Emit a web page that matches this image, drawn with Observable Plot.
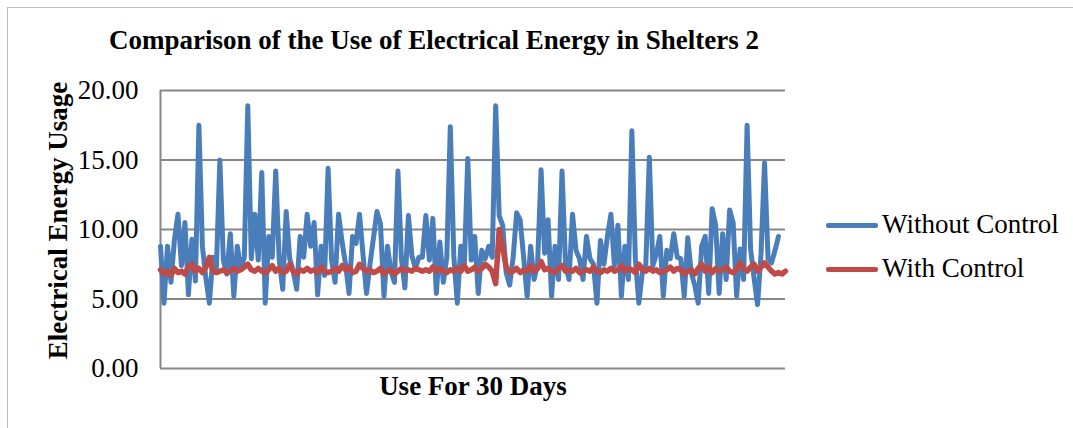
<!DOCTYPE html>
<html>
<head>
<meta charset="utf-8">
<script src="https://cdn.jsdelivr.net/npm/d3@7"></script>
<script src="https://cdn.jsdelivr.net/npm/@observablehq/plot@0.6"></script>
<style>
  html, body { margin: 0; padding: 0; background: #fff; }
  #wrap { position: relative; width: 1073px; height: 428px; overflow: hidden; background: #fff;
          font-family: "Liberation Serif", "Times New Roman", serif; color: #000; }
  #frame { position: absolute; left: 7px; top: 7px; width: 1100px; height: 500px;
           border-left: 1px solid #bfbfbf; border-top: 1px solid #bfbfbf; }
  #chart { position: absolute; left: 0; top: 0; }
  .t { position: absolute; font-size: 27px; line-height: 27px; white-space: nowrap; }
  #title { left: 0; width: 868px; top: 27px; text-align: center; font-weight: bold; }
  #xlabel { left: 273px; width: 400px; top: 373px; text-align: center; font-weight: bold; }
  #ylabel { left: -92px; width: 300px; top: 207px; text-align: center; font-weight: bold;
            transform: rotate(-90deg); transform-origin: 150px 13.5px; }
  .legrow { position: absolute; left: 826px; height: 27px; }
  .legline { position: absolute; left: 0; width: 52px; height: 5px; border-radius: 2px; }
  .legtext { position: absolute; left: 56px; top: 0; font-size: 27px; line-height: 27px; white-space: nowrap; }
</style>
</head>
<body>
<div id="wrap">
  <div id="frame"></div>
  <div id="chart"></div>
  <div id="title" class="t"></div>
  <div id="ylabel" class="t"></div>
  <div id="xlabel" class="t"></div>
</div>
<script>
const titleText = "Comparison of the Use of Electrical Energy in Shelters 2";
const yAxisTitle = "Electrical Energy Usage";
const xAxisTitle = "Use For 30 Days";
const seriesNames = ["Without Control", "With Control"];
const yTicks = [0, 5, 10, 15, 20];

const withoutControl = [
  8.8, 4.7, 8.8, 6.2, 9.3, 11.1, 7.4, 10.5, 5.3, 9.3,
  6.3, 17.5, 8.8, 6.5, 4.7, 8.0, 7.2, 15.0, 7.8, 6.8,
  9.7, 5.2, 8.8, 7.2, 8.0, 18.9, 7.9, 11.1, 7.8, 14.1,
  4.7, 9.5, 8.0, 14.2, 7.8, 5.7, 11.3, 7.9, 7.0, 5.7,
  9.5, 8.0, 11.1, 8.8, 10.5, 5.3, 8.8, 6.7, 14.4, 7.8,
  6.2, 11.1, 9.1, 7.5, 5.4, 9.5, 9.0, 11.1, 8.2, 5.4,
  7.5, 9.4, 11.3, 10.4, 5.2, 8.8, 7.0, 6.2, 14.2, 7.9,
  5.8, 11.0, 8.1, 7.2, 8.0, 8.0, 11.0, 7.8, 10.8, 5.4,
  9.1, 6.2, 8.0, 17.4, 8.1, 4.7, 8.8, 7.3, 15.1, 7.8,
  9.5, 5.4, 8.5, 7.9, 8.8, 8.0, 18.9, 11.0, 10.3, 6.9,
  6.0, 8.0, 11.2, 10.7, 8.0, 5.2, 8.8, 6.4, 7.5, 14.3,
  8.3, 10.7, 5.2, 8.8, 6.4, 14.2, 7.5, 6.4, 11.1, 8.5,
  7.9, 6.4, 9.5, 7.9, 7.5, 4.7, 9.2, 7.5, 9.5, 11.1,
  7.4, 10.3, 5.2, 8.8, 6.4, 17.1, 7.9, 4.7, 6.9, 7.5,
  15.2, 7.4, 8.2, 9.5, 5.2, 8.5, 7.9, 9.7, 8.0, 7.9,
  5.2, 9.4, 6.9, 6.0, 4.7, 8.8, 9.5, 5.4, 11.5, 10.3,
  5.4, 9.7, 6.4, 11.4, 10.5, 5.2, 8.6, 6.4, 17.5, 8.6,
  6.5, 4.6, 8.3, 14.8, 7.9, 7.6, 8.5, 9.5
];

const withControl = [
  7.1, 6.8, 7.0, 6.7, 7.2, 6.9, 7.0, 6.8, 7.3, 7.5,
  7.0, 7.2, 6.9, 7.3, 8.0, 7.0, 6.9, 7.0, 7.1, 6.9,
  7.0, 7.2, 7.0, 7.1, 7.3, 7.5, 7.1, 7.0, 7.2, 7.0,
  6.9, 7.1, 7.4, 7.0, 7.2, 6.9, 7.0, 7.5, 7.0, 6.8,
  7.1, 7.0, 7.2, 7.0, 7.1, 6.9, 7.3, 7.0, 6.9, 7.0,
  7.2, 7.0, 7.4, 7.1, 7.3, 6.9, 7.0, 7.5, 7.2, 7.0,
  7.1, 6.9, 7.0, 7.2, 6.8, 7.0, 7.1, 6.8, 7.0, 7.2,
  7.0, 7.1, 7.0, 7.2, 7.1, 7.0, 7.1, 7.0, 7.3, 7.0,
  7.2, 7.0, 6.9, 7.1, 7.0, 7.2, 7.0, 7.4, 7.0, 7.1,
  7.3, 7.0, 7.2, 7.5, 7.3, 7.0, 6.1, 10.0, 8.7, 7.3,
  6.9, 7.0, 7.2, 6.9, 7.1, 7.0, 7.4, 7.0, 7.2, 7.7,
  7.1, 7.2, 7.0, 6.9, 7.2, 7.4, 7.0, 7.1, 7.0, 7.2,
  6.9, 7.0, 7.1, 7.0, 7.3, 7.0, 6.9, 7.1, 7.0, 7.2,
  7.0, 7.1, 7.4, 7.0, 7.2, 7.1, 6.9, 7.5, 7.1, 7.0,
  7.2, 7.0, 7.1, 6.9, 7.0, 7.1, 7.3, 7.0, 7.2, 7.1,
  6.8, 7.0, 7.1, 6.8, 7.2, 7.5, 7.0, 7.3, 6.9, 7.2,
  7.0, 7.1, 7.3, 7.0, 6.9, 7.1, 7.6, 7.2, 7.0, 7.3,
  7.5, 7.0, 7.3, 7.6, 7.3, 7.0, 6.8, 6.9, 6.8, 7.0
];

const seriesColors = ["#4a7ebb", "#be4b48"];
const seriesWidths = [5, 5.5];
const gridColor = "#878787";

const rows = [];
[withoutControl, withControl].forEach((vals, s) => {
  vals.forEach((v, i) => rows.push({ i, value: v, series: seriesNames[s] }));
});
const nPoints = Math.max(withoutControl.length, withControl.length);

const chart = Plot.plot({
  width: 1073,
  height: 428,
  marginLeft: 160,
  marginRight: 288,
  marginTop: 90,
  marginBottom: 60,
  style: { fontFamily: '"Liberation Serif", "Times New Roman", serif', background: "transparent", color: "#000" },
  x: { domain: [0, nPoints - 1], axis: null },
  y: { domain: [0, 20], axis: null },
  color: { domain: seriesNames, range: seriesColors },
  marks: [
    Plot.gridY(yTicks, { stroke: gridColor, strokeOpacity: 1, strokeWidth: 2 }),
    Plot.ruleX([0], { y1: 0, y2: 20, stroke: gridColor, strokeWidth: 2 }),
    Plot.axisY(yTicks, { tickSize: 0, tickPadding: 22, tickFormat: d => d.toFixed(2), fontSize: 27, label: null, fill: "#000" }),
    ...seriesNames.map((name, k) =>
      Plot.line(rows.filter(r => r.series === name), {
        x: "i", y: "value", stroke: "series",
        strokeWidth: seriesWidths[k], strokeLinejoin: "round", strokeLinecap: "round"
      })
    )
  ]
});
document.getElementById("chart").appendChild(chart);

document.getElementById("title").textContent = titleText;
document.getElementById("xlabel").textContent = xAxisTitle;
document.getElementById("ylabel").textContent = yAxisTitle;

const wrap = document.getElementById("wrap");
const legTops = [211, 255];
seriesNames.forEach((name, k) => {
  const row = document.createElement("div");
  row.className = "legrow";
  row.style.top = legTops[k] + "px";
  const line = document.createElement("div");
  line.className = "legline";
  line.style.background = seriesColors[k];
  line.style.top = "12px";
  const txt = document.createElement("div");
  txt.className = "legtext";
  txt.textContent = name;
  row.appendChild(line);
  row.appendChild(txt);
  wrap.appendChild(row);
});
</script>
</body>
</html>
